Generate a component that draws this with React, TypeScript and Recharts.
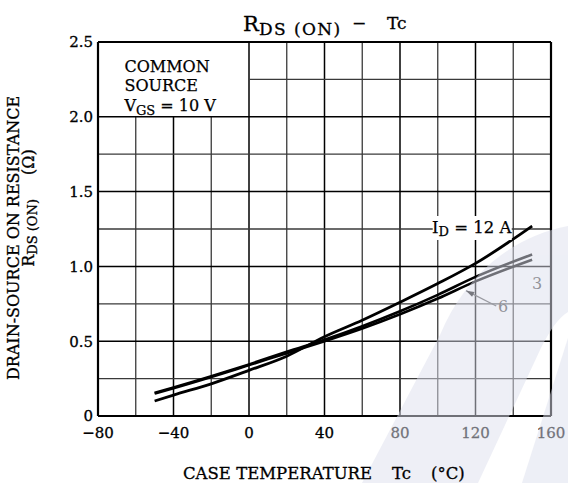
import React from 'react';
import { LineChart, Line, XAxis, YAxis, ReferenceLine, ReferenceDot } from 'recharts';

// Case temperature (°C) and on-resistance (Ω)
const temps = [-50, -40, -20, 0, 20, 40, 60, 80, 100, 120, 150];
const r12A = [0.1, 0.14, 0.215, 0.305, 0.4, 0.53, 0.64, 0.76, 0.885, 1.02, 1.27];
const r6A = [0.155, 0.19, 0.265, 0.345, 0.43, 0.51, 0.6, 0.7, 0.81, 0.93, 1.08];
const r3A = [0.15, 0.185, 0.26, 0.34, 0.42, 0.5, 0.585, 0.68, 0.785, 0.9, 1.045];

const xTicks = [-80, -40, 0, 40, 80, 120, 160];
const yTicks = [0, 0.5, 1.0, 1.5, 2.0, 2.5];
const xGrid = [-60, -40, -20, 0, 20, 40, 60, 80, 100, 120, 140];
const yGrid = [0.25, 0.5, 0.75, 1.0, 1.25, 1.5, 1.75, 2.0, 2.25];

const FONT = '"DejaVu Serif", "Liberation Serif", serif';

const data = temps.map((t, i) => ({ t, r12: r12A[i], r6: r6A[i], r3: r3A[i] }));

const fmtX = (v: number) => (v < 0 ? `\u2212${-v}` : `${v}`);
const fmtY = (v: number) => (v === 0 ? '0' : v.toFixed(1));

// grid is missing inside the condition box (top-left corner)
const gridSegX = (v: number) =>
  v < 0 ? [{ x: v, y: 0 }, { x: v, y: 2.0 }] : [{ x: v, y: 0 }, { x: v, y: 2.5 }];
const gridSegY = (v: number) =>
  v > 2.0 ? [{ x: 0, y: v }, { x: 160, y: v }] : [{ x: -80, y: v }, { x: 160, y: v }];

const isMajorX = (v: number) => v % 40 === 0;
const isMajorY = (v: number) => Math.abs(v * 2 - Math.round(v * 2)) < 1e-6;

const conditionText = (props: any) => (
  <g fontFamily={FONT} fontSize={16} fill="#000" stroke="#000" strokeWidth={0.25}>
    <text x={props.cx} y={props.cy}>COMMON</text>
    <text x={props.cx} y={props.cy + 19}>SOURCE</text>
    <text x={props.cx} y={props.cy + 39}>
      V<tspan fontSize={13} dy={4}>GS</tspan>
      <tspan dy={-4}> = 10 V</tspan>
    </text>
  </g>
);

const idLabel = (props: any) => (
  <g fontFamily={FONT} fill="#000">
    <rect x={props.cx - 39} y={props.cy - 13} width={79} height={24} fill="#fff" />
    <text x={props.cx} y={props.cy + 4} textAnchor="middle" fontSize={16.5} stroke="#000" strokeWidth={0.25}>
      I<tspan fontSize={13} dy={3}>D</tspan>
      <tspan dy={-3}> = 12 A</tspan>
    </text>
  </g>
);

const plainLabel = (s: string) => (props: any) => (
  <text x={props.cx} y={props.cy} textAnchor="middle" dominantBaseline="central" fontFamily={FONT} fontSize={16} fill="#444">
    {s}
  </text>
);

const arrowHead = (props: any) => {
  const { cx, cy } = props;
  return <polygon points={`${cx},${cy} ${cx + 6},${cy + 6} ${cx + 8.5},${cy + 1.3}`} fill="#111" />;
};

const tickStyle = { fill: '#000', fontSize: 15, fontFamily: FONT, stroke: '#000', strokeWidth: 0.3 };

export default function App() {
  return (
    <div style={{ position: 'absolute', left: 0, top: 0, width: 568, height: 483, background: '#fff' }}>
      <LineChart width={568} height={483} data={data} margin={{ top: 42, right: 17, left: 0, bottom: 0 }}>
        <XAxis
          dataKey="t"
          type="number"
          domain={[-80, 160]}
          ticks={xTicks}
          tickFormatter={fmtX}
          axisLine={false}
          tickLine={false}
          tickSize={6}
          tickMargin={5}
          height={67}
          tick={tickStyle}
        />
        <YAxis
          type="number"
          domain={[0, 2.5]}
          ticks={yTicks}
          tickFormatter={fmtY}
          axisLine={false}
          tickLine={false}
          tickSize={3}
          tickMargin={2}
          width={98}
          tick={tickStyle}
        />
        {xGrid.map(v => (
          <ReferenceLine
            key={`gx${v}`}
            segment={gridSegX(v)}
            stroke={isMajorX(v) ? '#000' : '#3a3a3a'}
            strokeWidth={isMajorX(v) ? 1.5 : 1.3}
            ifOverflow="visible"
          />
        ))}
        {yGrid.map(v => (
          <ReferenceLine
            key={`gy${v}`}
            segment={gridSegY(v)}
            stroke={isMajorY(v) ? '#000' : '#3a3a3a'}
            strokeWidth={isMajorY(v) ? 1.5 : 1.3}
            ifOverflow="visible"
          />
        ))}
        <ReferenceLine x={-80} stroke="#000" strokeWidth={2.2} ifOverflow="visible" />
        <ReferenceLine x={160} stroke="#000" strokeWidth={2.2} ifOverflow="visible" />
        <ReferenceLine y={0} stroke="#000" strokeWidth={2.2} ifOverflow="visible" />
        <ReferenceLine y={2.5} stroke="#000" strokeWidth={2.2} ifOverflow="visible" />

        <Line type="monotone" dataKey="r12" stroke="#000" strokeWidth={2.8} dot={false} isAnimationActive={false} />
        <Line type="monotone" dataKey="r6" stroke="#000" strokeWidth={2.6} dot={false} isAnimationActive={false} />
        <Line type="monotone" dataKey="r3" stroke="#000" strokeWidth={2.6} dot={false} isAnimationActive={false} />

        <ReferenceLine segment={[{ x: 115, y: 0.838 }, { x: 131, y: 0.735 }]} stroke="#555" strokeWidth={1.3} ifOverflow="visible" />
        <ReferenceDot x={115} y={0.838} r={0} shape={arrowHead} ifOverflow="visible" />
        <ReferenceDot x={-66} y={2.3} r={0} shape={conditionText} ifOverflow="visible" />
        <ReferenceDot x={118} y={1.25} r={0} shape={idLabel} ifOverflow="visible" />
        <ReferenceDot x={134.6} y={0.729} r={0} shape={plainLabel('6')} ifOverflow="visible" />
        <ReferenceDot x={152.6} y={0.889} r={0} shape={plainLabel('3')} ifOverflow="visible" />
      </LineChart>
      <svg width={568} height={483} style={{ position: 'absolute', left: 0, top: 0, pointerEvents: 'none' }} fontFamily={FONT} fill="#000">
        {/* faint watermark swoosh in the lower right of the scan */}
        <g fill="#dde0ee" opacity={0.5}>
          <path d="M568,226 C505,238 462,282 440,335 L362,483 L478,483 L540,350 C550,330 558,318 568,312 Z" />
          <path d="M568,338 L522,483 L568,483 Z" />
        </g>
        <g stroke="#000" strokeWidth={0.3}>
          <text x={243} y={31} fontSize={21}>R</text>
          <text x={259} y={35} fontSize={17} letterSpacing={1.4}>DS (ON)</text>
          <text x={352} y={29} fontSize={17}>{'\u2212'}</text>
          <text x={387} y={29} fontSize={17}>Tc</text>
          <text transform="translate(19 238) rotate(-90)" textAnchor="middle" fontSize={16}>
            DRAIN-SOURCE ON RESISTANCE
          </text>
          <text transform="translate(34 208) rotate(-90)" textAnchor="middle" fontSize={16}>
            R<tspan fontSize={13} dy={3}>DS (ON)</tspan>
            <tspan dy={-3}>{'\u2003\u2002'}(Ω)</tspan>
          </text>
          <text x={183} y={479} fontSize={16.5}>CASE TEMPERATURE</text>
          <text x={392} y={479} fontSize={16.5}>Tc</text>
          <text x={431} y={479} fontSize={16.5}>(°C)</text>
        </g>
      </svg>
    </div>
  );
}
